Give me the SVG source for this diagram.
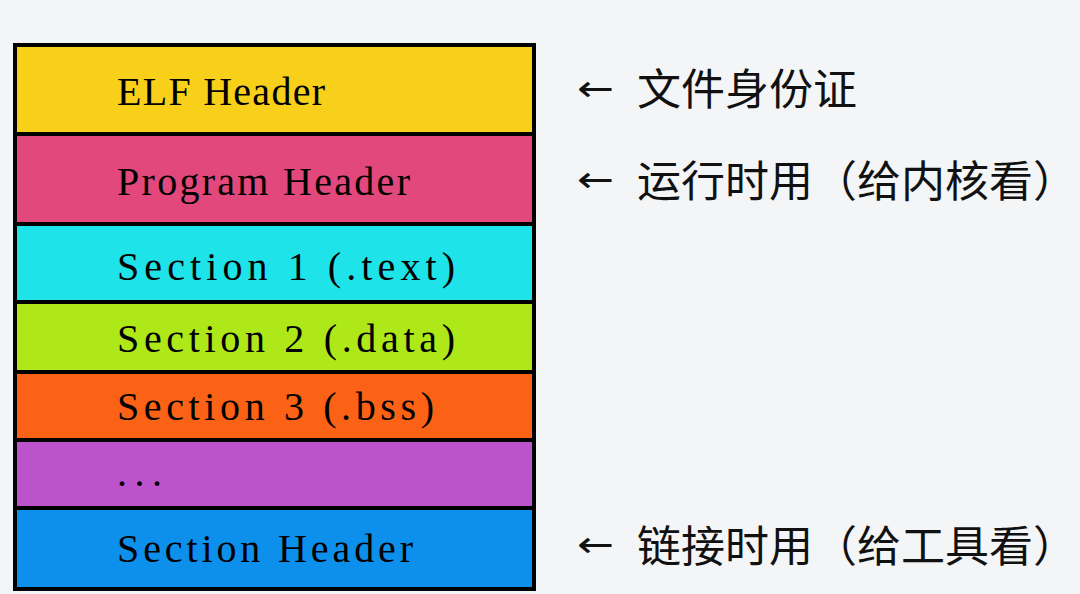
<svg xmlns="http://www.w3.org/2000/svg" width="1080" height="594" viewBox="0 0 1080 594">
<style>
.row{stroke:#000;stroke-width:4}
.lbl{font-family:"Liberation Serif","DejaVu Serif",serif;font-size:40px;fill:#000}
.zh{font-family:"Noto Sans CJK SC",sans-serif;font-size:43px;fill:#111}
.arr{font-family:"DejaVu Sans",sans-serif;font-size:36px;fill:#111}
</style>
<rect width="1080" height="594" fill="#f3f5f7"/>
<g id="elf-header"><rect class="row" x="15" y="45" width="519" height="89" fill="#f8d01a"/><text class="lbl" x="117" y="105" textLength="208" lengthAdjust="spacing">ELF Header</text></g>
<g id="program-header"><rect class="row" x="15" y="134" width="519" height="90" fill="#e2487c"/><text class="lbl" x="117" y="195" textLength="293" lengthAdjust="spacing">Program Header</text></g>
<g id="section1"><rect class="row" x="15" y="224" width="519" height="78" fill="#1ee3e8"/><text class="lbl" x="117" y="280" textLength="338" lengthAdjust="spacing">Section 1 (.text)</text></g>
<g id="section2"><rect class="row" x="15" y="302" width="519" height="70" fill="#aee818"/><text class="lbl" x="117" y="352" textLength="338" lengthAdjust="spacing">Section 2 (.data)</text></g>
<g id="section3"><rect class="row" x="15" y="372" width="519" height="68" fill="#fb6216"/><text class="lbl" x="117" y="420" textLength="317" lengthAdjust="spacing">Section 3 (.bss)</text></g>
<g id="more"><rect class="row" x="15" y="440" width="519" height="68" fill="#bc52cc"/><text class="lbl" x="117" y="486" textLength="45" lengthAdjust="spacing">...</text></g>
<g id="section-header"><rect class="row" x="15" y="508" width="519" height="81" fill="#0d8fec"/><text class="lbl" x="117" y="562" textLength="296" lengthAdjust="spacing">Section Header</text></g>
<g id="connectors">
<text class="arr" x="577" y="101" textLength="37" lengthAdjust="spacingAndGlyphs">←</text>
<text class="arr" x="577" y="192" textLength="37" lengthAdjust="spacingAndGlyphs">←</text>
<text class="arr" x="577" y="557" textLength="37" lengthAdjust="spacingAndGlyphs">←</text>
</g>
<g id="notes">
<text class="zh" x="637" y="105" textLength="220" lengthAdjust="spacingAndGlyphs">文件身份证</text>
<text class="zh" x="637" y="197" textLength="440" lengthAdjust="spacingAndGlyphs">运行时用（给内核看）</text>
<text class="zh" x="637" y="562" textLength="440" lengthAdjust="spacingAndGlyphs">链接时用（给工具看）</text>
</g>
</svg>
